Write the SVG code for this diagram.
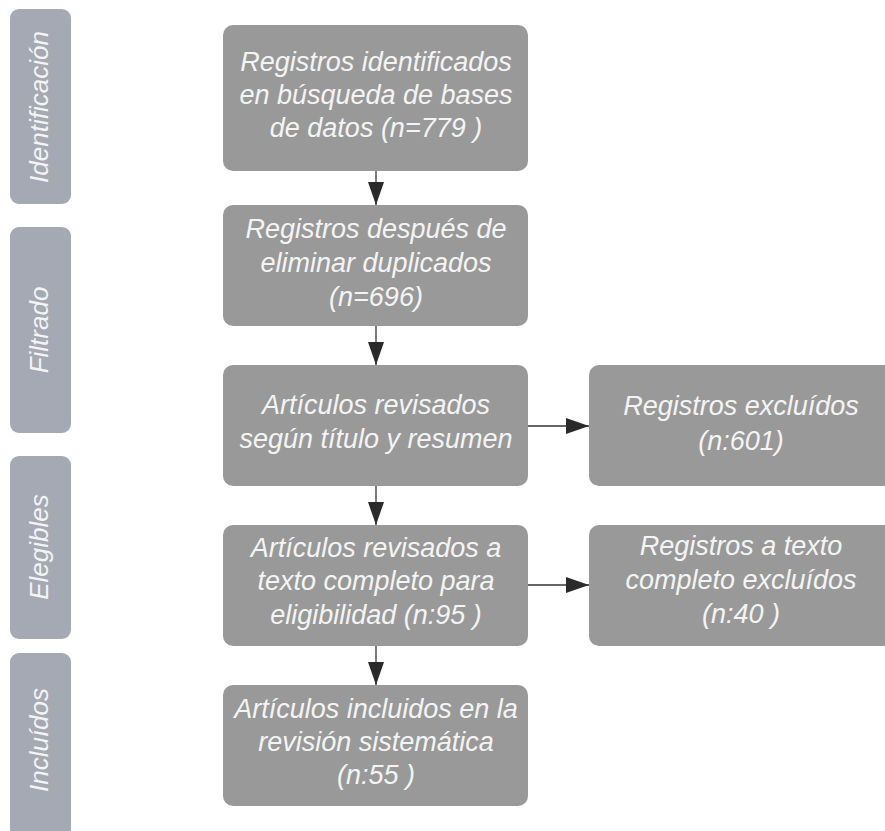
<svg xmlns="http://www.w3.org/2000/svg" width="885" height="831" viewBox="0 0 885 831">
<style>
.side{fill:#a4a9b3}
.box{fill:#999999}
.t{font-family:"Liberation Sans",Arial,sans-serif;font-style:italic;fill:#f4f4f4;text-anchor:middle;font-size:27px}
.st{font-family:"Liberation Sans",Arial,sans-serif;font-style:italic;fill:#f4f4f4;text-anchor:middle;font-size:26px}
.c{stroke:#333333;stroke-width:1.3;fill:none}
</style>
<defs>
<marker id="ah" markerWidth="23" markerHeight="16" refX="23" refY="8" orient="auto" markerUnits="userSpaceOnUse">
<path d="M0,0 L23,8 L0,16 Z" fill="#2a2a2a"/>
</marker>
</defs>
<rect width="885" height="831" fill="#ffffff"/>
<g id="lane-identificacion"><rect class="side" x="10" y="9" width="61" height="195" rx="9"/><text class="st" transform="translate(48,107) rotate(-90)">Identificación</text></g>
<g id="lane-filtrado"><rect class="side" x="10" y="227" width="61" height="206" rx="9"/><text class="st" transform="translate(48,330) rotate(-90)">Filtrado</text></g>
<g id="lane-elegibles"><rect class="side" x="10" y="456" width="61" height="183" rx="9"/><text class="st" transform="translate(48,547) rotate(-90)">Elegibles</text></g>
<g id="lane-incluidos"><rect class="side" x="10" y="653" width="61" height="185" rx="9"/><text class="st" transform="translate(48,740) rotate(-90)">Incluídos</text></g>
<g id="connectors">
<line class="c" x1="376" y1="171" x2="376" y2="205" marker-end="url(#ah)"/>
<line class="c" x1="376" y1="326" x2="376" y2="365" marker-end="url(#ah)"/>
<line class="c" x1="376" y1="486" x2="376" y2="525" marker-end="url(#ah)"/>
<line class="c" x1="376" y1="646" x2="376" y2="685" marker-end="url(#ah)"/>
<line class="c" x1="528" y1="426" x2="589" y2="426" marker-end="url(#ah)"/>
<line class="c" x1="528" y1="585" x2="589" y2="585" marker-end="url(#ah)"/>
</g>
<g id="n1"><rect class="box" x="223" y="25" width="305" height="146" rx="10"/><text class="t"><tspan x="376" y="71">Registros identificados</tspan><tspan x="376" y="104">en búsqueda de bases</tspan><tspan x="376" y="137">de datos (n=779 )</tspan></text></g>
<g id="n2"><rect class="box" x="223" y="205" width="305" height="121" rx="10"/><text class="t"><tspan x="376" y="238">Registros después de</tspan><tspan x="376" y="272">eliminar duplicados</tspan><tspan x="376" y="306">(n=696)</tspan></text></g>
<g id="n3"><rect class="box" x="223" y="365" width="305" height="121" rx="10"/><text class="t"><tspan x="376" y="414">Artículos revisados</tspan><tspan x="376" y="448">según título y resumen</tspan></text></g>
<g id="n4"><rect class="box" x="223" y="525" width="305" height="121" rx="10"/><text class="t"><tspan x="376" y="557">Artículos revisados a</tspan><tspan x="376" y="590">texto completo para</tspan><tspan x="376" y="624">eligibilidad (n:95 )</tspan></text></g>
<g id="n5"><rect class="box" x="223" y="685" width="305" height="121" rx="10"/><text class="t"><tspan x="376" y="718">Artículos incluidos en la</tspan><tspan x="376" y="751">revisión sistemática</tspan><tspan x="376" y="784">(n:55 )</tspan></text></g>
<g id="n6"><rect class="box" x="589" y="365" width="305" height="121" rx="10"/><text class="t"><tspan x="741" y="415">Registros excluídos</tspan><tspan x="741" y="450">(n:601)</tspan></text></g>
<g id="n7"><rect class="box" x="589" y="525" width="305" height="121" rx="10"/><text class="t"><tspan x="741" y="555">Registros a texto</tspan><tspan x="741" y="589">completo excluídos</tspan><tspan x="741" y="623">(n:40 )</tspan></text></g>
</svg>
